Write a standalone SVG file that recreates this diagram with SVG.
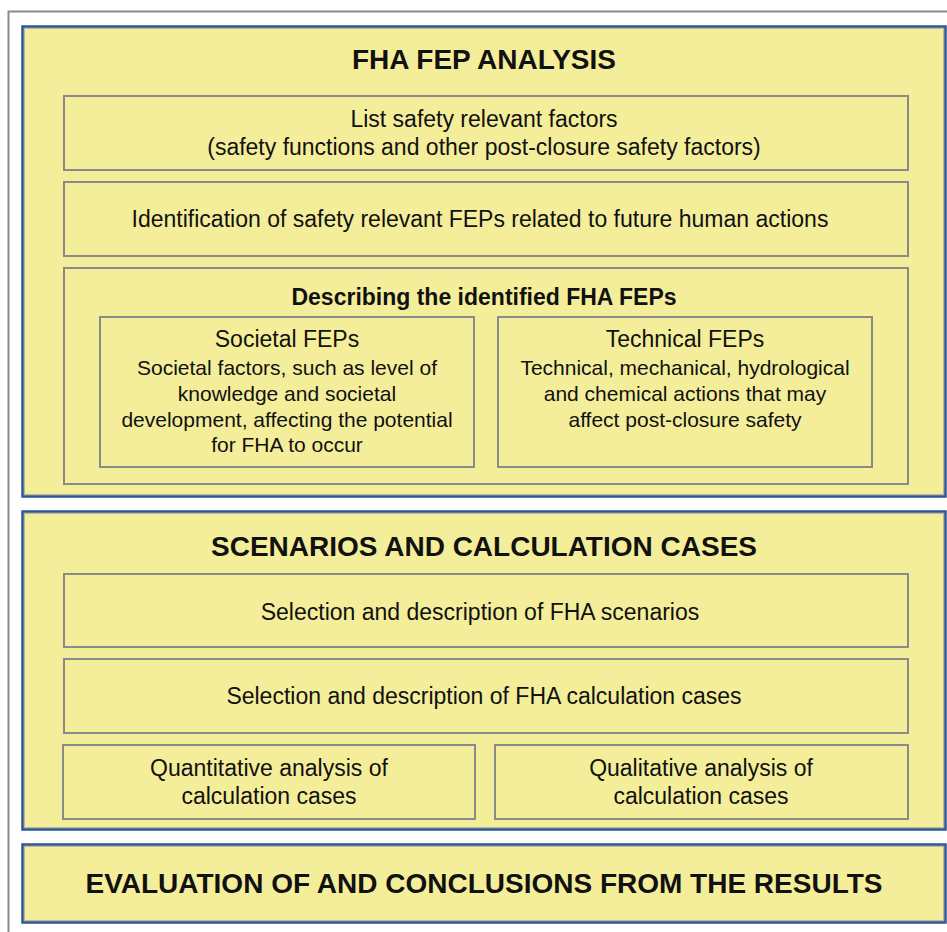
<svg xmlns="http://www.w3.org/2000/svg" width="947" height="932" viewBox="0 0 947 932">
<style>
.frame{fill:none;stroke:#8a8a8a;stroke-width:2}
.sec{fill:#F4EE9A;stroke:#2E5597;stroke-width:2.5}
.secin{fill:none;stroke:#b5b5a0;stroke-width:1}
.box{fill:#F4EE9A;stroke:#8a8a8a;stroke-width:2}
text{font-family:"Liberation Sans",Arial,sans-serif;fill:#111;text-anchor:middle}
.h{font-size:28px;font-weight:bold}
.sh{font-size:23px;font-weight:bold}
.t{font-size:23px}
.s{font-size:21px}
</style>
<rect width="947" height="932" fill="#fff"/>
<g id="frame"><path class="frame" d="M8.5,932 V11.5 H947"/></g>
<g id="connectors"/>
<g id="fha-fep-analysis">
<rect class="sec" x="22.5" y="26.5" width="923" height="470"/>
<rect class="secin" x="24.5" y="28.5" width="919" height="466"/>
<text class="h" x="484" y="69">FHA FEP ANALYSIS</text>
</g>
<g id="list-factors">
<rect class="box" x="64" y="96" width="844" height="74"/>
<text class="t" x="484" y="127">List safety relevant factors</text>
<text class="t" x="484" y="155">(safety functions and other post-closure safety factors)</text>
</g>
<g id="identification">
<rect class="box" x="64" y="182" width="844" height="74"/>
<text class="t" x="480" y="227">Identification of safety relevant FEPs related to future human actions</text>
</g>
<g id="describing">
<rect class="box" x="64" y="268" width="844" height="216"/>
<text class="sh" x="484" y="305">Describing the identified FHA FEPs</text>
</g>
<g id="societal-feps">
<rect class="box" x="100" y="317" width="374" height="150"/>
<text class="t" x="287" y="347">Societal FEPs</text>
<text class="s" x="287" y="375">Societal factors, such as level of</text>
<text class="s" x="287" y="401">knowledge and societal</text>
<text class="s" x="287" y="427">development, affecting the potential</text>
<text class="s" x="287" y="452">for FHA to occur</text>
</g>
<g id="technical-feps">
<rect class="box" x="498" y="317" width="374" height="150"/>
<text class="t" x="685" y="347">Technical FEPs</text>
<text class="s" x="685" y="375">Technical, mechanical, hydrological</text>
<text class="s" x="685" y="401">and chemical actions that may</text>
<text class="s" x="685" y="427">affect post-closure safety</text>
</g>
<g id="scenarios">
<rect class="sec" x="22.5" y="511.5" width="923" height="318"/>
<rect class="secin" x="24.5" y="513.5" width="919" height="314"/>
<text class="h" x="484" y="556">SCENARIOS AND CALCULATION CASES</text>
</g>
<g id="select-scenarios">
<rect class="box" x="64" y="574" width="844" height="73"/>
<text class="t" x="480" y="620">Selection and description of FHA scenarios</text>
</g>
<g id="select-cases">
<rect class="box" x="64" y="659" width="844" height="74"/>
<text class="t" x="484" y="704">Selection and description of FHA calculation cases</text>
</g>
<g id="quantitative">
<rect class="box" x="63" y="745" width="412" height="74"/>
<text class="t" x="269" y="776">Quantitative analysis of</text>
<text class="t" x="269" y="804">calculation cases</text>
</g>
<g id="qualitative">
<rect class="box" x="495" y="745" width="413" height="74"/>
<text class="t" x="701" y="776">Qualitative analysis of</text>
<text class="t" x="701" y="804">calculation cases</text>
</g>
<g id="evaluation">
<rect class="sec" x="22.5" y="844.5" width="923" height="78"/>
<rect class="secin" x="24.5" y="846.5" width="919" height="74"/>
<text class="h" x="484" y="893">EVALUATION OF AND CONCLUSIONS FROM THE RESULTS</text>
</g>
</svg>
